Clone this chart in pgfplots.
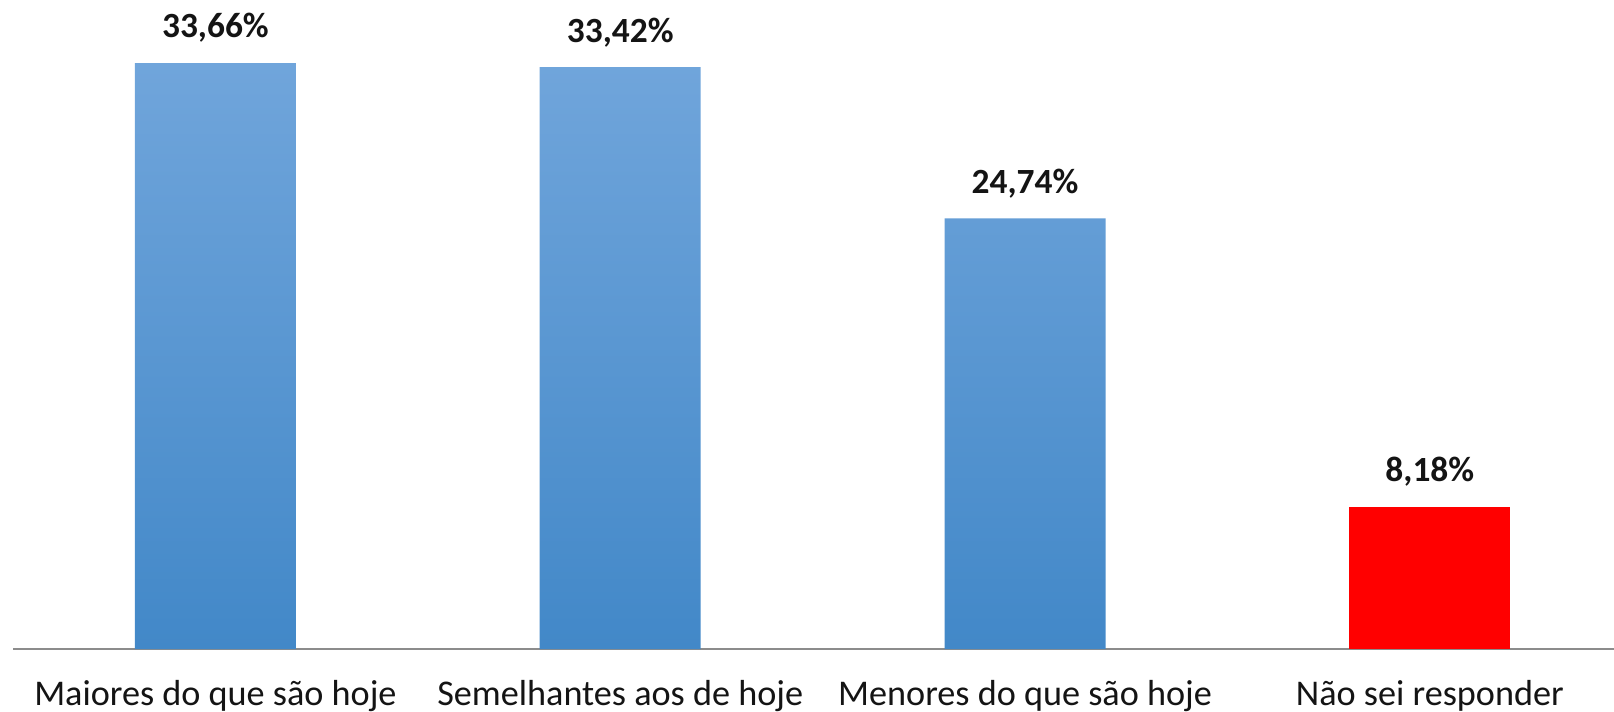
\documentclass[border=0pt]{standalone}
\usepackage{fontspec}
\setmainfont{Carlito}
\usepackage{pgfplots}
\pgfplotsset{compat=1.18}
\definecolor{bartop}{RGB}{112,165,219}
\definecolor{barbot}{RGB}{66,136,200}
\definecolor{axgray}{RGB}{140,140,140}
\definecolor{txt}{RGB}{20,20,20}
\begin{document}
\begin{tikzpicture}
\begin{axis}[
  scale only axis,
  width=800.5pt, height=324.5pt,
  xmin=-0.5, xmax=3.455,
  ymin=0, ymax=37.28,
  axis y line=none,
  axis x line*=bottom,
  x axis line style={draw=axgray, line width=1pt, -},
  xtick={0,1,2,3},
  xticklabels={Maiores do que são hoje, Semelhantes aos de hoje, Menores do que são hoje, Não sei responder},
  xtick style={draw=none},
  xticklabel style={font=\fontsize{18.1}{21}\selectfont, text=txt, inner sep=0pt, yshift=-11pt},
  ybar, bar width=80.5pt,
  point meta=explicit symbolic,
  nodes near coords,
  nodes near coords style={font=\fontsize{17.7}{21}\selectfont\bfseries, text=txt, anchor=south, inner sep=0pt, yshift=10pt},
  clip=false,
]
\addplot[draw=none, top color=bartop, bottom color=barbot, bar shift=0pt] coordinates {
  (0,33.66) [33,66\%]
  (1,33.42) [33,42\%]
  (2,24.74) [24,74\%]
};
\addplot[draw=none, fill=red, bar shift=0pt] coordinates {
  (3,8.18) [8,18\%]
};
\coordinate (bl) at (rel axis cs:0,0);
\coordinate (tr) at (rel axis cs:1,1);
\end{axis}
\pgfresetboundingbox
\path[use as bounding box] (bl) ++(-6.5pt,-31pt) rectangle (tr);
\end{tikzpicture}
\end{document}
